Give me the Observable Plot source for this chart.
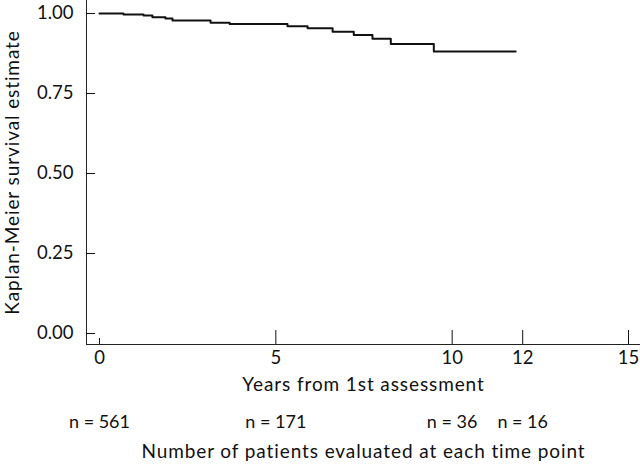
<!DOCTYPE html>
<html>
<head>
<meta charset="utf-8">
<script src="https://cdn.jsdelivr.net/npm/d3@7"></script>
<script src="https://cdn.jsdelivr.net/npm/@observablehq/plot@0.6"></script>
<style>
  html, body { margin: 0; padding: 0; background: #fff; }
</style>
</head>
<body>
<div id="chart"></div>
<script>
// Kaplan-Meier step curve (years from 1st assessment, survival estimate)
const years    = [0, 0.68, 1.25, 1.50, 1.87, 2.07, 3.15, 3.69, 5.33, 5.90, 6.61, 7.21, 7.74, 8.26, 9.48, 11.80];
const survival = [1.000, 0.997, 0.994, 0.988, 0.984, 0.978, 0.971, 0.967, 0.960, 0.954, 0.943, 0.933, 0.921, 0.905, 0.881, 0.881];

const xTicks = [0, 5, 10, 12, 15];
const yTicks = [0, 0.25, 0.5, 0.75, 1];

// Number of patients evaluated at each time point
const nYears   = [0, 5, 10, 12];
const nAtRisk  = [561, 171, 36, 16];

const xLabel = "Years from 1st assessment";
const yLabel = "Kaplan-Meier survival estimate";
const nLabel = "Number of patients evaluated at each time point";

const curve = years.map((t, i) => ({t, s: survival[i]}));
const nData = nYears.map((t, i) => ({t, n: nAtRisk[i]}));

const chart = Plot.plot({
  width: 640,
  height: 466,
  marginLeft: 86,
  marginRight: 0,
  marginTop: 0,
  marginBottom: 122,
  x: {domain: [0, 15], insetLeft: 13, insetRight: 12},
  y: {domain: [0, 1], insetTop: 13, insetBottom: 11},
  style: {fontFamily: "Lato, sans-serif", fontSize: "18px", color: "#111", background: "#fff"},
  marks: [
    Plot.frame({anchor: "left", stroke: "#222"}),
    Plot.frame({anchor: "bottom", stroke: "#222"}),
    Plot.axisY({ticks: yTicks, tickSize: -9, tickPadding: 22, tickFormat: d3.format(".2f"), label: null, fontSize: 18.5}),
    Plot.axisX({ticks: xTicks, tickSize: 0, tickPadding: 6, tickFormat: d => String(d), label: null, fontSize: 18.5}),
    Plot.axisX({ticks: xTicks.filter(d => d !== 0), tickSize: -14, tickFormat: () => "", label: null}),
    Plot.axisX({ticks: [0], tickSize: -6, tickFormat: () => "", label: null}),
    Plot.line(curve, {x: "t", y: "s", curve: "step-after", stroke: "#111", strokeWidth: 2}),
    Plot.text([xLabel], {frameAnchor: "bottom", dy: 46, fontSize: 19}),
    Plot.text(nData, {x: "t", text: d => `n = ${d.n}`, frameAnchor: "bottom", dy: 83, fontSize: 18}),
    Plot.text([nLabel], {frameAnchor: "bottom", dy: 113, fontSize: 19}),
    Plot.text([yLabel], {frameAnchor: "left", textAnchor: "middle", rotate: -90, dx: -74, fontSize: 19})
  ]
});
d3.select(chart).selectAll("text")
  .filter(function() { return [xLabel, yLabel, nLabel].includes(this.textContent); })
  .style("letter-spacing", "0.9px");
document.getElementById("chart").appendChild(chart);
</script>
</body>
</html>
